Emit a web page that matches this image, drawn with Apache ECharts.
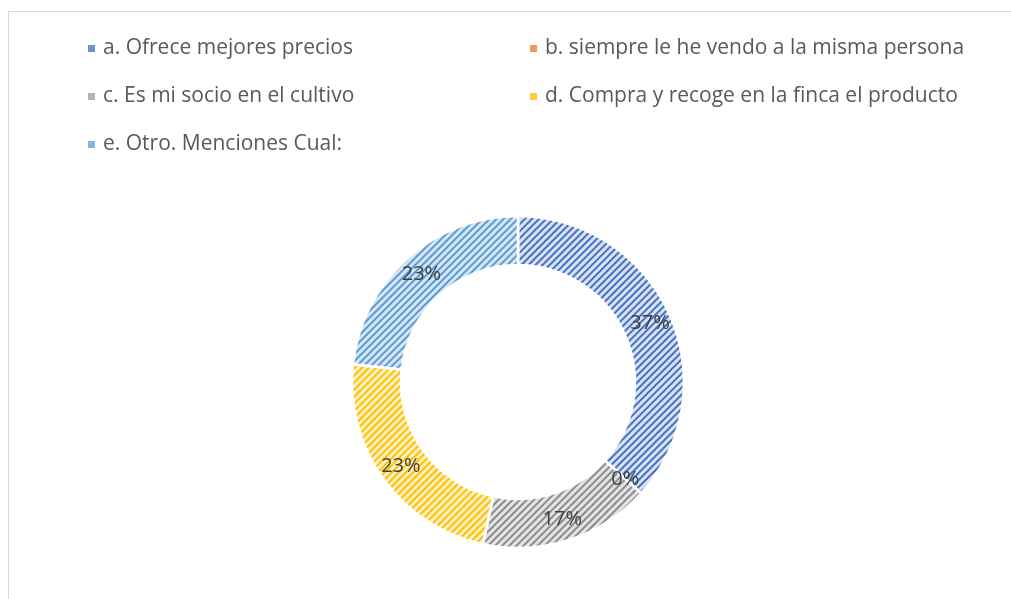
<!DOCTYPE html>
<html>
<head>
<meta charset="utf-8">
<script src="https://cdn.jsdelivr.net/npm/echarts@6/dist/echarts.min.js"></script>
<style>
  body { margin: 0; background: #fff; }
  #chart { position: absolute; left: 0; top: 0; width: 1011px; height: 599px; }
  #frame { position: absolute; left: 8px; top: 11px; width: 1100px; height: 700px;
    border-top: 1px solid #d9d9d9; border-left: 1px solid #d9d9d9; pointer-events: none; }
</style>
</head>
<body>
<div id="chart"></div>
<div id="frame"></div>
<script>
// reasons for selling to the buyer, share of answers (%)
var categories = [
  'a. Ofrece mejores precios',
  'b. siempre le he vendo a la misma persona',
  'c. Es mi socio en el cultivo',
  'd. Compra y recoge en la finca el producto',
  'e. Otro. Menciones Cual:'
]
var values = [36.7, 0, 16.7, 23.3, 23.3]
var lineColors = ['#4472c4', '#ed7d31', '#8c8c8c', '#ffc000', '#5b9bd5']
var fillColors = ['#d9e1f3', '#fbe0cf', '#e4e4e4', '#fff0c2', '#d5e5f4']
var iconColors = ['#6f8fd2', '#f0995e', '#b4b4b4', '#ffcd40', '#84b4e0']

var chart = echarts.init(document.getElementById('chart'))

var seriesData = values.map(function (v, i) {
  return {
    name: categories[i],
    value: v,
    itemStyle: {
      color: fillColors[i],
      decal: {
        symbol: 'rect',
        color: lineColors[i],
        dashArrayX: [1, 0],
        dashArrayY: [1.2, 2.8],
        rotation: -Math.PI / 4
      }
    }
  }
})

function legendItems (idx) {
  return idx.map(function (i) {
    return { name: categories[i], itemStyle: { color: iconColors[i], decal: 'none' } }
  })
}

var legendText = { fontFamily: 'Open Sans', fontSize: 21, color: '#595959', lineHeight: 20, padding: [0, 0, 0, 2] }

var option = {
  animation: false,
  legend: [
    {
      orient: 'vertical',
      left: 86,
      top: 38,
      padding: 0,
      itemWidth: 9,
      itemHeight: 9,
      itemGap: 27,
      icon: 'rect',
      data: legendItems([0, 2, 4]),
      textStyle: legendText
    },
    {
      orient: 'vertical',
      left: 528,
      top: 38,
      padding: 0,
      itemWidth: 9,
      itemHeight: 9,
      itemGap: 27,
      icon: 'rect',
      data: legendItems([1, 3]),
      textStyle: legendText
    }
  ],
  series: [
    {
      type: 'pie',
      center: [518, 382],
      radius: [117, 166],
      startAngle: 90,
      clockwise: true,
      percentPrecision: 0,
      avoidLabelOverlap: false,
      itemStyle: {
        borderColor: '#fff',
        borderWidth: 2.5
      },
      label: {
        show: true,
        position: 'inside',
        formatter: '{d}%',
        fontFamily: 'Open Sans',
        fontSize: 20,
        color: '#404040'
      },
      labelLine: { show: false },
      emphasis: { disabled: true },
      data: seriesData
    }
  ]
}

chart.setOption(option)
</script>
</body>
</html>
